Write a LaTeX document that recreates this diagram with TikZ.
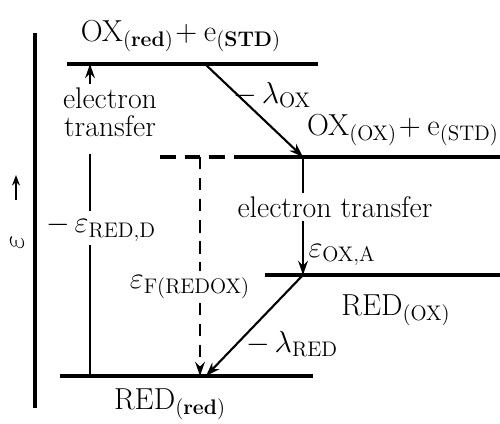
\documentclass[tikz,border=0pt]{standalone}
\usepackage{tikz}
\usetikzlibrary{arrows.meta, positioning, calc}
\usepackage{amsmath}

\begin{document}
\begin{tikzpicture}[font=\fontsize{17}{20}\selectfont]
            \tikzstyle{level} = [line width=2.6pt]
            \tikzstyle{arrow} = [line width=1.2pt,-{Stealth[length=8pt,width=5.5pt]}]
            \tikzstyle{conn} = [line width=1.2pt]
            \tikzstyle{lbl} = [inner sep=2pt]
            \useasboundingbox (0,0) rectangle (10,-8.46);

            % energy axis
            \draw[line width=2.6pt] (0.7,-0.66) -- (0.7,-8.16);
            \node[inner sep=0pt, rotate=90] (eps) at (0.34,-4.86) {$\varepsilon$};
            \draw[line width=1pt,-{Stealth[length=6pt,width=4.5pt]}] (0.32,-4.0) -- (0.32,-3.5);

            % levels
            \coordinate (t1) at (1.34,-1.28);  \coordinate (t2) at (6.36,-1.28);
            \coordinate (m0) at (3.2,-3.14);   \coordinate (m1) at (4.86,-3.14);  \coordinate (m2) at (10,-3.14);
            \coordinate (r1) at (5.3,-5.5);    \coordinate (r2) at (10,-5.5);
            \coordinate (b1) at (1.2,-7.52);   \coordinate (b2) at (6.26,-7.52);
            \draw[level] (t1) -- (t2);
            \draw[line width=1.8pt, dash pattern=on 9pt off 5pt] (m0) -- (m1);
            \draw[level] (m1) -- (m2);
            \draw[level] (r1) -- (r2);
            \draw[level] (b1) -- (b2);

            \node[lbl] (oxred) at (3.62,-0.72) {$\mathrm{OX}_{\mathbf{(red)}}\!+\mathrm{e}_{\mathbf{(STD)}}$};
            \node[lbl] (oxox) at (8.06,-2.6) {$\mathrm{OX}_{\mathrm{(OX)}}\!+\mathrm{e}_{\mathrm{(STD)}}$};
            \node[lbl] (redox) at (7.92,-6.2) {$\mathrm{RED}_{\mathrm{(OX)}}$};
            \node[lbl] (redred) at (3.4,-8.08) {$\mathrm{RED}_{\mathbf{(red)}}$};

            % left electron transfer
            \coordinate (lt) at (1.8,-1.28);
            \coordinate (lb) at (1.8,-7.52);
            \node[lbl, align=center] (etL) at (2.2,-2.24) {electron\\[-4pt]transfer};
            \node[lbl] (eRD) at (2.02,-4.56) {$-\,\varepsilon_{\mathrm{RED,D}}$};
            \draw[arrow] (etL.north -| lt) -- (lt);
            \draw[conn] ([yshift=-8pt]etL.south -| lt) -- (eRD.north -| lt);
            \draw[conn] (eRD.south -| lt) -- (lb);

            % reorganisation of OX
            \coordinate (ox1) at (4.1,-1.28);
            \coordinate (j1) at (6.06,-3.14);
            \draw[arrow] (ox1) -- (j1);
            \node[lbl] (lox) at (5.44,-1.9) {$-\,\lambda_{\mathrm{OX}}$};

            % right electron transfer
            \coordinate (j2) at (6.06,-5.5);
            \node[lbl] (etR) at (6.7,-4.14) {electron transfer};
            \node[lbl] (eOA) at (6.84,-5.1) {$\varepsilon_{\mathrm{OX,A}}$};
            \draw[conn] (j1) -- (etR.north -| j1);
            \draw[arrow] (etR.south -| j1) -- (j2);

            % reorganisation of RED
            \coordinate (rd) at (4.12,-7.52);
            \draw[arrow] (j2) -- (rd);
            \node[lbl] (lred) at (5.84,-6.88) {$-\,\lambda_{\mathrm{RED}}$};

            % Fermi level
            \coordinate (f1) at (4.0,-3.14);
            \coordinate (f2) at (4.0,-7.52);
            \node[lbl] (eF) at (3.8,-5.74) {$\varepsilon_{\mathrm{F(REDOX)}}$};
            \draw[line width=1.2pt, dash pattern=on 7pt off 5pt] (f1) -- (eF.north -| f1);
            \draw[arrow, dash pattern=on 7pt off 5pt] (eF.south -| f1) -- (f2);
        \end{tikzpicture}
\end{document}
